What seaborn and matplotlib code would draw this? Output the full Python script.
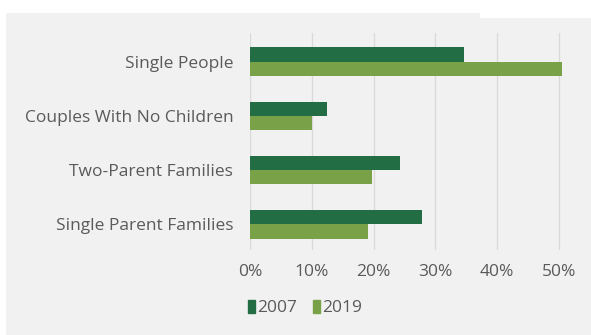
import matplotlib
matplotlib.use("Agg")
import matplotlib.pyplot as plt
import matplotlib.patches as mpatches
import seaborn as sns
import pandas as pd

categories = ["Single People", "Couples With No Children", "Two-Parent Families", "Single Parent Families"]
years = ["2007", "2019"]
values_2007 = [34.7, 12.5, 24.2, 27.9]
values_2019 = [50.5, 10.1, 19.7, 19.1]
tick_values = [0, 10, 20, 30, 40, 50]
tick_labels = ["0%", "10%", "20%", "30%", "40%", "50%"]

df = pd.DataFrame({
    "category": categories * 2,
    "year": [years[0]] * len(categories) + [years[1]] * len(categories),
    "value": values_2007 + values_2019,
})

sns.set_theme(style="white")
plt.rcParams["font.family"] = ["Open Sans", "DejaVu Sans"]

bg = "#f1f1f1"
colors = {"2007": "#236d45", "2019": "#78a148"}
text_color = "#5a5a5a"
fs = 12.5

fig = plt.figure(figsize=(5.91, 3.35), dpi=100, facecolor="white")
fig.patches.append(mpatches.Rectangle((6 / 591, 0), 1, 1 - 13 / 335, transform=fig.transFigure,
                                      facecolor=bg, edgecolor="none", zorder=-10))
fig.patches.append(mpatches.Rectangle((480 / 591, 1 - 18 / 335), 1, 1, transform=fig.transFigure,
                                      facecolor="white", edgecolor="none", zorder=-9))

ax = fig.add_axes([250 / 591, 1 - 250 / 335, (571.4 - 250) / 591, 217 / 335])
ax.patch.set_alpha(0)

sns.barplot(data=df, y="category", x="value", hue="year", order=categories, hue_order=years,
            palette=colors, width=0.52, orient="h", ax=ax, legend=False, saturation=1,
            linewidth=0, edgecolor="none")

ax.set_xlim(0, 52)
ax.set_ylim(3.47, -0.525)
ax.set_xticks(tick_values)
ax.set_xticklabels(tick_labels)
ax.grid(axis="x", color="#d9d9d9", linewidth=0.9)
ax.set_axisbelow(True)
for s in ax.spines.values():
    s.set_visible(False)
ax.set_xlabel("")
ax.set_ylabel("")
ax.tick_params(axis="y", length=0, pad=12, labelsize=fs, labelcolor=text_color)
ax.tick_params(axis="x", length=0, pad=10, labelsize=fs, labelcolor=text_color)

handles = [mpatches.Patch(color=colors[y], label=y) for y in years]
fig.legend(handles=handles, loc="center left", bbox_to_anchor=(232 / 591, 1 - 308 / 335),
           ncol=2, frameon=False, handlelength=0.45, handleheight=0.8, handletextpad=0.1,
           columnspacing=0.9, fontsize=fs, labelcolor=text_color)

fig.savefig("out.png", dpi=100, facecolor=fig.get_facecolor())
